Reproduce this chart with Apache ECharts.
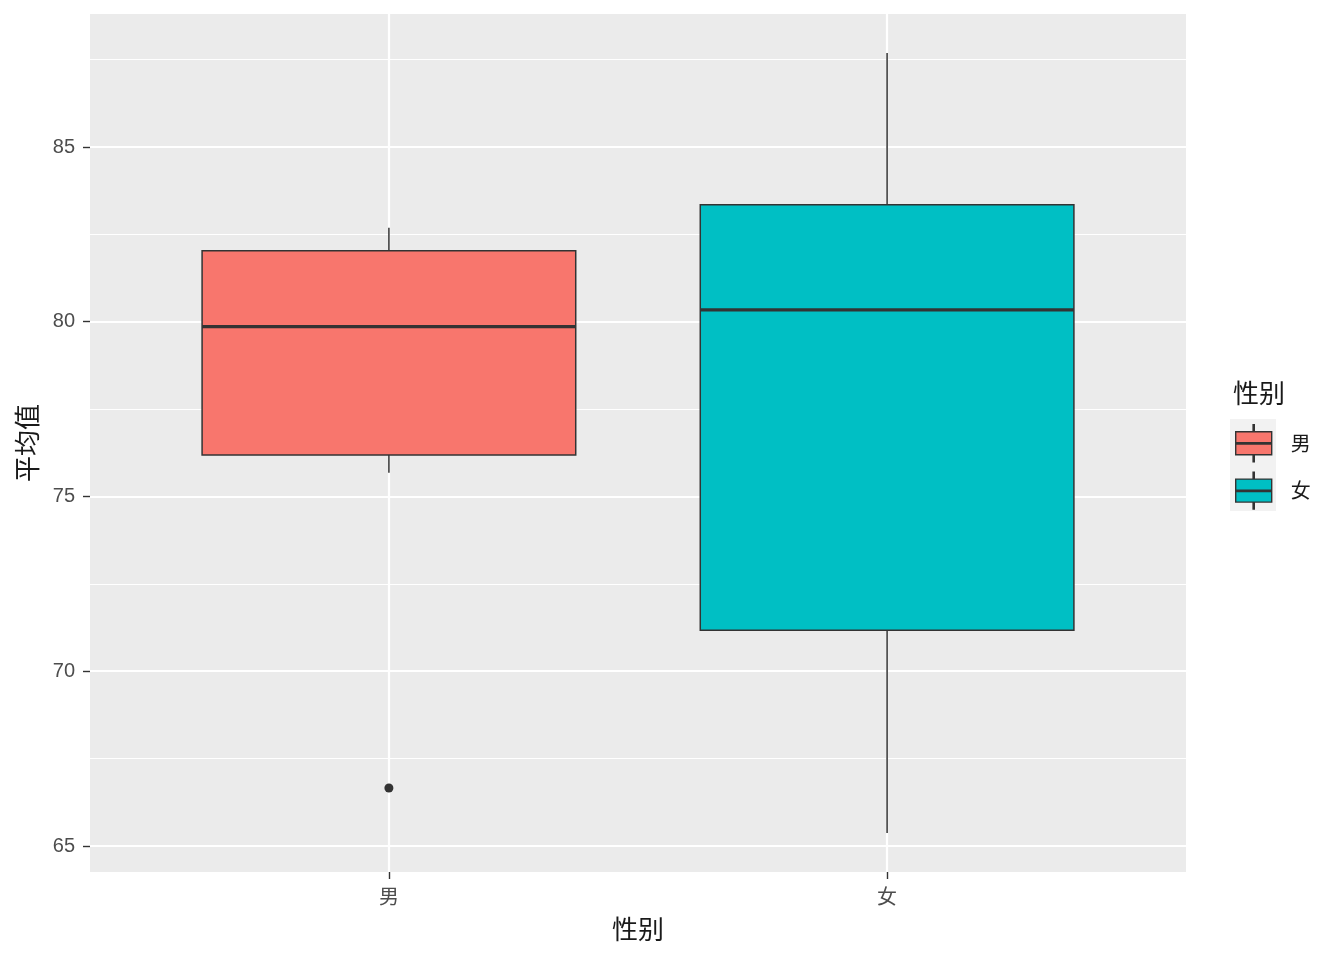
<!DOCTYPE html>
<html>
<head>
<meta charset="utf-8">
<script src="https://cdn.jsdelivr.net/npm/echarts@6/dist/echarts.min.js"></script>
<style>
  html, body { margin: 0; padding: 0; background: #fff; }
  #main { width: 1344px; height: 960px; }
</style>
</head>
<body>
<div id="main"></div>
<script>
const categories = ['男', '女'];
const xPos = [1, 2];
const lowerWhisker = [75.68, 65.37];
const q1 = [76.19, 71.17];
const medians = [79.86, 80.34];
const q3 = [82.03, 83.35];
const upperWhisker = [82.69, 87.69];
const outliers = [[1, 66.66]];
const yTicks = [65, 70, 75, 80, 85];
const yMinor = [67.5, 72.5, 77.5, 82.5, 87.5];
const colors = ['#F8766D', '#00BFC4'];

const lineCol = '#333333';
const chart = echarts.init(document.getElementById('main'));

// one ggplot-like box (no whisker caps, thick median)
const renderBox = (params, api) => {
  const x = api.value(0);
  const lo = api.coord([x, api.value(1)]);
  const b1 = api.coord([x, api.value(2)]);
  const md = api.coord([x, api.value(3)]);
  const b3 = api.coord([x, api.value(4)]);
  const hi = api.coord([x, api.value(5)]);
  const half = api.size([0.75, 0])[0] / 2;
  const fill = colors[params.seriesIndex - 1];
  return {
    type: 'group',
    children: [
      { type: 'line', shape: { x1: hi[0], y1: hi[1], x2: b3[0], y2: b3[1] }, style: { stroke: lineCol, lineWidth: 1.5 } },
      { type: 'line', shape: { x1: b1[0], y1: b1[1], x2: lo[0], y2: lo[1] }, style: { stroke: lineCol, lineWidth: 1.5 } },
      { type: 'rect', shape: { x: b3[0] - half, y: b3[1], width: half * 2, height: b1[1] - b3[1] }, style: { fill: fill, stroke: lineCol, lineWidth: 1.5 } },
      { type: 'line', shape: { x1: md[0] - half, y1: md[1], x2: md[0] + half, y2: md[1] }, style: { stroke: lineCol, lineWidth: 3.4 } },
    ],
  };
};

const boxSeries = categories.map((name, i) => ({
  name: name,
  type: 'custom',
  z: 3,
  itemStyle: { color: colors[i] },
  renderItem: renderBox,
  encode: { x: 0, y: [1, 2, 3, 4, 5] },
  data: [[xPos[i], lowerWhisker[i], q1[i], medians[i], q3[i], upperWhisker[i]]],
}));

const gridLines = [
  ...yMinor.map((v) => ({ yAxis: v, lineStyle: { width: 1.1 } })),
  ...yTicks.map((v) => ({ yAxis: v, lineStyle: { width: 2.2 } })),
  ...xPos.map((v) => ({ xAxis: v, lineStyle: { width: 2.2 } })),
];

const option = {
  animation: false,
  backgroundColor: '#FFFFFF',
  grid: {
    left: 90,
    right: 158,
    top: 14,
    bottom: 88,
    show: true,
    backgroundColor: '#EBEBEB',
    borderWidth: 0,
  },
  title: {
    text: '性别',
    left: 1228,
    top: 375,
    textStyle: { fontFamily: 'Noto Sans CJK SC', fontSize: 26, fontWeight: 'normal', color: '#1A1A1A' },
  },
  legend: {
    data: categories,
    orient: 'vertical',
    left: 1235,
    top: 424,
    padding: 0,
    itemWidth: 36,
    itemHeight: 37,
    itemGap: 9,
    icon: 'path://M0,7H36V30H0Z M17.4,0H18.6V7H17.4Z M17.4,30H18.6V37H17.4Z M0,18H36V19.4H0Z',
    itemStyle: { borderColor: lineCol, borderWidth: 1.4 },
    textStyle: { fontFamily: 'Noto Sans CJK SC', fontSize: 20, color: '#1A1A1A', padding: [0, 0, 0, 14] },
    selectedMode: false,
  },
  graphic: [
    { type: 'rect', left: 1230, top: 419, z: 0, shape: { width: 46, height: 92 }, style: { fill: '#F2F2F2' } },
  ],
  xAxis: {
    type: 'value',
    min: 0.4,
    max: 2.6,
    name: '性别',
    nameLocation: 'middle',
    nameGap: 44,
    nameTextStyle: { fontFamily: 'Noto Sans CJK SC', fontSize: 26, color: '#1A1A1A' },
    axisLine: { show: false },
    axisTick: { show: true, customValues: xPos, length: 7, lineStyle: { color: lineCol, width: 1.4 } },
    axisLabel: {
      customValues: xPos,
      formatter: (v) => categories[xPos.indexOf(v)] || '',
      fontFamily: 'Noto Sans CJK SC',
      fontSize: 20,
      color: '#4D4D4D',
      margin: 14,
    },
    splitLine: { show: false },
  },
  yAxis: {
    type: 'value',
    min: 64.256,
    max: 88.805,
    name: '平均值',
    nameLocation: 'middle',
    nameGap: 50,
    nameRotate: 90,
    nameTextStyle: { fontFamily: 'Noto Sans CJK SC', fontSize: 26, color: '#1A1A1A' },
    axisLine: { show: false },
    axisTick: { show: true, customValues: yTicks, length: 7, lineStyle: { color: lineCol, width: 1.4 } },
    axisLabel: {
      customValues: yTicks,
      fontFamily: 'Liberation Sans',
      fontSize: 20,
      color: '#4D4D4D',
      margin: 15,
    },
    splitLine: { show: false },
  },
  series: [
    {
      name: 'grid',
      type: 'line',
      data: [],
      markLine: {
        silent: true,
        symbol: 'none',
        z: 1,
        label: { show: false },
        lineStyle: { color: '#FFFFFF', type: 'solid' },
        data: gridLines,
      },
    },
    ...boxSeries,
    {
      name: 'outlier',
      type: 'scatter',
      z: 5,
      symbolSize: 9,
      itemStyle: { color: lineCol, opacity: 1 },
      data: outliers,
    },
  ],
};

chart.setOption(option);
</script>
</body>
</html>
